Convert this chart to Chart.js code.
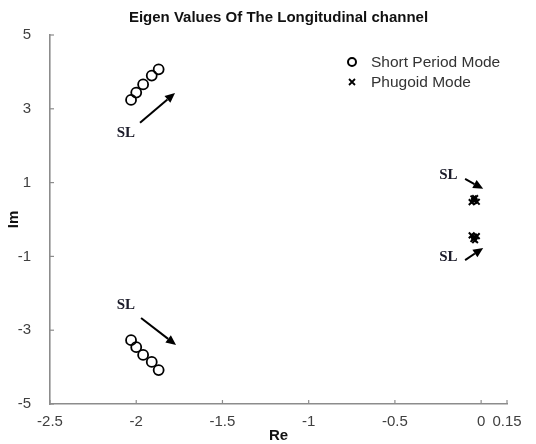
<!DOCTYPE html>
<html>
<head>
<meta charset="utf-8">
<title>eigen</title>
<script src="https://cdn.jsdelivr.net/npm/chart.js@4.4.0/dist/chart.umd.min.js"></script>
<style>
  html, body { margin: 0; padding: 0; background: #fff; }
  #wrap { width: 536px; height: 444px; }
</style>
</head>
<body>
<div id="wrap"><canvas id="eig"></canvas></div>
<script>
// Valeurs
const titleText = "Eigen Values Of The Longitudinal channel";
const legendNames = ["Short Period Mode", "Phugoid Mode"];

const shortRe = [-2.03, -2.00, -1.96, -1.91, -1.87];
const shortImUp = [3.24, 3.44, 3.66, 3.90, 4.07];
const shortImDown = [-3.27, -3.46, -3.67, -3.86, -4.08];

const phugRe = [-0.055, -0.045, -0.04, -0.035, -0.025];
const phugImUp = [0.47, 0.57, 0.51, 0.58, 0.48];
const phugImDown = [-0.43, -0.53, -0.47, -0.56, -0.45];

const xTicks = [-2.5, -2, -1.5, -1, -0.5, 0, 0.15];
const yTicks = [-5, -3, -1, 1, 3, 5];

// annotations "SL" : texte, debut et fin de fleche (Re, Im)
const slLabels = [[-2.06, 2.34], [-2.06, -2.32], [-0.19, 1.21], [-0.19, -1.02]];
const slFrom = [[-1.978, 2.62], [-1.972, -2.67], [-0.093, 1.10], [-0.093, -1.10]];
const slTo = [[-1.775, 3.43], [-1.769, -3.40], [0.012, 0.83], [0.012, -0.77]];

const toPoints = (xs, ys) => xs.map((v, i) => ({ x: v, y: ys[i] }));

const axisGrey = "#8c8c8c";
const textGrey = "#404040";
const sans = "'Liberation Sans', Arial, sans-serif";

// ticks interieurs, fleches SL et legende
const decor = {
  id: "decor",
  afterDraw(chart) {
    const { ctx, chartArea: a } = chart;
    const x = chart.scales.x;
    const y = chart.scales.y;
    ctx.save();

    ctx.strokeStyle = axisGrey;
    ctx.lineWidth = 1.2;
    xTicks.forEach((v) => {
      const px = x.getPixelForValue(v);
      ctx.beginPath();
      ctx.moveTo(px, a.bottom);
      ctx.lineTo(px, a.bottom - 4);
      ctx.stroke();
    });
    yTicks.forEach((v) => {
      const py = y.getPixelForValue(v);
      ctx.beginPath();
      ctx.moveTo(a.left, py);
      ctx.lineTo(a.left + 4, py);
      ctx.stroke();
    });

    // fleches
    ctx.strokeStyle = "#000";
    ctx.fillStyle = "#000";
    ctx.lineWidth = 2;
    slFrom.forEach((p, i) => {
      const x0 = x.getPixelForValue(p[0]);
      const y0 = y.getPixelForValue(p[1]);
      const x1 = x.getPixelForValue(slTo[i][0]);
      const y1 = y.getPixelForValue(slTo[i][1]);
      const ang = Math.atan2(y1 - y0, x1 - x0);
      const len = 10;
      const bx = x1 - len * Math.cos(ang);
      const by = y1 - len * Math.sin(ang);
      ctx.beginPath();
      ctx.moveTo(x0, y0);
      ctx.lineTo(bx, by);
      ctx.stroke();
      ctx.beginPath();
      ctx.moveTo(x1, y1);
      ctx.lineTo(bx + 4.5 * Math.sin(ang), by - 4.5 * Math.cos(ang));
      ctx.lineTo(bx - 4.5 * Math.sin(ang), by + 4.5 * Math.cos(ang));
      ctx.closePath();
      ctx.fill();
    });

    ctx.fillStyle = "#1c1c2a";
    ctx.font = "bold 15px 'Liberation Serif', 'DejaVu Serif', serif";
    ctx.textAlign = "center";
    ctx.textBaseline = "middle";
    slLabels.forEach((p) => {
      ctx.fillText("SL", x.getPixelForValue(p[0]), y.getPixelForValue(p[1]));
    });

    // legende
    ctx.strokeStyle = "#000";
    ctx.lineWidth = 2;
    ctx.beginPath();
    ctx.arc(352, 62, 4, 0, Math.PI * 2);
    ctx.stroke();
    ctx.lineWidth = 1.8;
    ctx.beginPath();
    ctx.moveTo(349, 79); ctx.lineTo(355, 85);
    ctx.moveTo(355, 79); ctx.lineTo(349, 85);
    ctx.stroke();
    ctx.fillStyle = "#333";
    ctx.font = "15.5px " + sans;
    ctx.textAlign = "left";
    ctx.fillText(legendNames[0], 371, 63);
    ctx.fillText(legendNames[1], 371, 83);

    ctx.restore();
  }
};

const data = {
  datasets: [
    {
      label: legendNames[0],
      data: toPoints(shortRe, shortImUp).concat(toPoints(shortRe, shortImDown)),
      pointStyle: "circle",
      pointRadius: 5,
      pointBorderWidth: 1.8,
      pointBorderColor: "#000",
      pointBackgroundColor: "rgba(0,0,0,0)",
      showLine: false,
    },
    {
      label: legendNames[1],
      data: toPoints(phugRe, phugImUp).concat(toPoints(phugRe, phugImDown)),
      pointStyle: "crossRot",
      pointRadius: 4,
      pointBorderWidth: 2,
      pointBorderColor: "#000",
      showLine: false,
    },
  ],
};

const config = {
  type: "scatter",
  data: data,
  options: {
    responsive: true,
    maintainAspectRatio: false,
    animation: false,
    layout: { padding: { top: 0, right: 29, left: 0, bottom: 0 } },
    plugins: {
      legend: { display: false },
      tooltip: { enabled: false },
      title: {
        display: true,
        text: titleText,
        fullSize: false,
        color: "#111",
        font: { family: sans, size: 15, weight: "bold" },
        padding: { top: 9, bottom: 8 },
      },
    },
    scales: {
      x: {
        type: "linear",
        min: -2.5,
        max: 0.15,
        afterBuildTicks: (s) => { s.ticks = xTicks.map((v) => ({ value: v })); },
        afterFit: (s) => { s.height = 40; },
        grid: { display: false, drawTicks: false },
        border: { color: axisGrey, width: 1.6 },
        ticks: {
          autoSkip: false,
          maxRotation: 0,
          padding: 9,
          color: textGrey,
          font: { family: sans, size: 15 },
          callback: (v) => String(v),
        },
        title: {
          display: true,
          text: "Re",
          color: "#111",
          padding: { top: 0, bottom: -1 },
          font: { family: sans, size: 15, weight: "bold" },
        },
      },
      y: {
        type: "linear",
        min: -5,
        max: 5,
        afterBuildTicks: (s) => { s.ticks = yTicks.map((v) => ({ value: v })); },
        afterFit: (s) => { s.width = 50; },
        grid: { display: false, drawTicks: false },
        border: { color: axisGrey, width: 1.6 },
        ticks: {
          autoSkip: false,
          padding: 19,
          color: textGrey,
          font: { family: sans, size: 15 },
          callback: (v) => String(v),
        },
        title: {
          display: true,
          text: "Im",
          color: "#111",
          padding: { top: 5, bottom: 0 },
          font: { family: sans, size: 15, weight: "bold" },
        },
      },
    },
  },
  plugins: [decor],
};

const context = document.getElementById("eig").getContext("2d");
const chart = new Chart(context, config);
</script>
</body>
</html>
